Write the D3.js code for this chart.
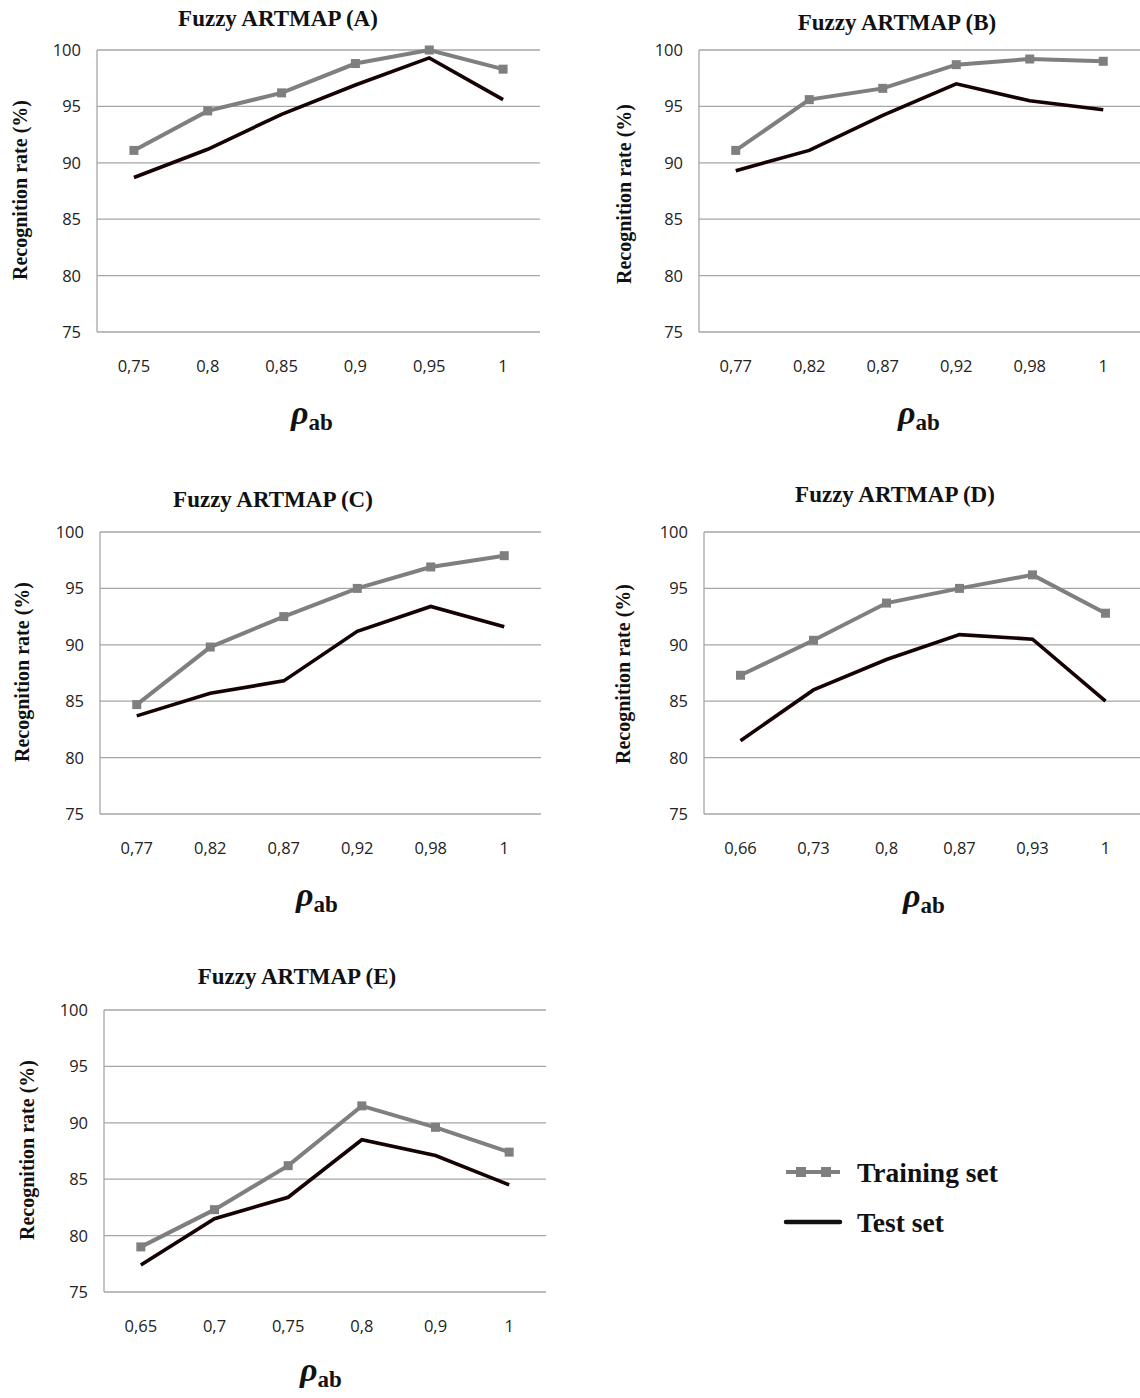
<!DOCTYPE html>
<html>
<head>
<meta charset="utf-8">
<script src="https://cdn.jsdelivr.net/npm/d3@7"></script>
<style>
  body { margin: 0; background: #fff; }
  svg { display: block; }
  .tick-label { font-family: 'Open Sans', sans-serif; font-size: 16.5px; fill: #222; }
  .title { font-family: 'Liberation Serif', serif; font-weight: bold; font-size: 23px; fill: #111; }
  .ytitle { font-family: 'Liberation Serif', serif; font-weight: bold; font-size: 20px; fill: #111; }
  .legend { font-family: 'Liberation Serif', serif; font-weight: bold; font-size: 27.5px; fill: #111; }
</style>
</head>
<body>
<div id="chart"></div>
<script>
// data --------------------------------------------------
var titles = ['Fuzzy ARTMAP (A)', 'Fuzzy ARTMAP (B)', 'Fuzzy ARTMAP (C)', 'Fuzzy ARTMAP (D)', 'Fuzzy ARTMAP (E)']

var catsA = ['0,75', '0,8', '0,85', '0,9', '0,95', '1']
var trainA = [91.1, 94.6, 96.2, 98.8, 100, 98.3]
var testA = [88.7, 91.2, 94.3, 96.9, 99.3, 95.6]

var catsB = ['0,77', '0,82', '0,87', '0,92', '0,98', '1']
var trainB = [91.1, 95.6, 96.6, 98.7, 99.2, 99.0]
var testB = [89.3, 91.1, 94.2, 97.0, 95.5, 94.7]

var catsC = ['0,77', '0,82', '0,87', '0,92', '0,98', '1']
var trainC = [84.7, 89.8, 92.5, 95.0, 96.9, 97.9]
var testC = [83.7, 85.7, 86.8, 91.2, 93.4, 91.6]

var catsD = ['0,66', '0,73', '0,8', '0,87', '0,93', '1']
var trainD = [87.3, 90.4, 93.7, 95.0, 96.2, 92.8]
var testD = [81.5, 86.0, 88.7, 90.9, 90.5, 85.0]

var catsE = ['0,65', '0,7', '0,75', '0,8', '0,9', '1']
var trainE = [79.0, 82.3, 86.2, 91.5, 89.6, 87.4]
var testE = [77.4, 81.5, 83.4, 88.5, 87.1, 84.5]

var yTicks = [75, 80, 85, 90, 95, 100]
var seriesNames = ['Training set', 'Test set']

// panel geometry ----------------------------------------
var panels = [
  {cats: catsA, train: trainA, test: testA, left: 97, top: 50, width: 443, titleX: 278, titleY: 26, yTitleX: 20, yTitleY: 190, rhoX: 291, rhoDy: 92},
  {cats: catsB, train: trainB, test: testB, left: 699, top: 50, width: 441, titleX: 897, titleY: 30, yTitleX: 624, yTitleY: 194, rhoX: 898, rhoDy: 92},
  {cats: catsC, train: trainC, test: testC, left: 100, top: 532, width: 441, titleX: 273, titleY: 507, yTitleX: 22, yTitleY: 672, rhoX: 296, rhoDy: 92},
  {cats: catsD, train: trainD, test: testD, left: 704, top: 532, width: 438, titleX: 895, titleY: 502, yTitleX: 623, yTitleY: 674, rhoX: 903, rhoDy: 93},
  {cats: catsE, train: trainE, test: testE, left: 104, top: 1010, width: 442, titleX: 297, titleY: 984, yTitleX: 27, yTitleY: 1150, rhoX: 300, rhoDy: 89}
]
var plotH = 282

var svg = d3.select('#chart').append('svg')
  .attr('width', 1140)
  .attr('height', 1398)

panels.forEach(function (p, i) {
  var x = d3.scaleBand().domain(p.cats).range([p.left, p.left + p.width])
  var y = d3.scaleLinear().domain([75, 100]).range([p.top + plotH, p.top])
  var g = svg.append('g')

  // gridlines
  g.selectAll('line.grid')
    .data(yTicks)
    .enter()
    .append('line')
    .attr('x1', p.left)
    .attr('x2', p.left + p.width)
    .attr('y1', function (d) { return y(d) })
    .attr('y2', function (d) { return y(d) })
    .attr('stroke', '#a6a6a6')
    .attr('stroke-width', 1.3)
  g.append('line')
    .attr('x1', p.left).attr('x2', p.left)
    .attr('y1', y(100)).attr('y2', y(75))
    .attr('stroke', '#a6a6a6')
    .attr('stroke-width', 1.3)

  // y tick labels
  g.selectAll('text.ytick')
    .data(yTicks)
    .enter()
    .append('text')
    .attr('class', 'tick-label')
    .attr('x', p.left - 16)
    .attr('y', function (d) { return y(d) + 6 })
    .attr('text-anchor', 'end')
    .text(function (d) { return d })

  // x tick labels
  g.selectAll('text.xtick')
    .data(p.cats)
    .enter()
    .append('text')
    .attr('class', 'tick-label')
    .attr('x', function (d) { return x(d) + x.bandwidth() / 2 })
    .attr('y', y(75) + 40)
    .attr('text-anchor', 'middle')
    .text(function (d) { return d })

  // title
  g.append('text')
    .attr('class', 'title')
    .attr('x', p.titleX)
    .attr('y', p.titleY)
    .attr('text-anchor', 'middle')
    .text(titles[i])

  // y axis title
  g.append('text')
    .attr('class', 'ytitle')
    .attr('transform', 'translate(' + (p.yTitleX + 7) + ',' + p.yTitleY + ') rotate(-90)')
    .attr('text-anchor', 'middle')
    .text('Recognition rate (%)')

  // x axis title: rho_ab
  var rho = g.append('text')
    .attr('x', p.rhoX)
    .attr('y', y(75) + p.rhoDy)
    .attr('font-family', 'Liberation Serif, serif')
    .attr('font-weight', 'bold')
    .attr('fill', '#111')
  rho.append('tspan').attr('font-size', 34).attr('font-style', 'italic').text('ρ')
  rho.append('tspan').attr('font-size', 23).attr('dy', 6).text('ab')

  var line = d3.line()
    .x(function (d, j) { return x(p.cats[j]) + x.bandwidth() / 2 })
    .y(function (d) { return y(d) })

  g.append('path')
    .datum(p.test)
    .attr('d', line)
    .attr('fill', 'none')
    .attr('stroke', '#160202')
    .attr('stroke-width', 3.6)
  g.append('path')
    .datum(p.train)
    .attr('d', line)
    .attr('fill', 'none')
    .attr('stroke', '#7f7f7f')
    .attr('stroke-width', 4)
  g.selectAll('rect.mark')
    .data(p.train)
    .enter()
    .append('rect')
    .attr('x', function (d, j) { return x(p.cats[j]) + x.bandwidth() / 2 - 4.5 })
    .attr('y', function (d) { return y(d) - 4.5 })
    .attr('width', 9)
    .attr('height', 9)
    .attr('fill', '#7f7f7f')
})

// legend
var legend = svg.append('g').attr('transform', 'translate(786, 1172)')
legend.append('line')
  .attr('x1', 0).attr('x2', 54).attr('y1', 0).attr('y2', 0)
  .attr('stroke', '#7f7f7f').attr('stroke-width', 4)
legend.selectAll('rect')
  .data([15, 40])
  .enter()
  .append('rect')
  .attr('x', function (d) { return d - 5 })
  .attr('y', -5)
  .attr('width', 10)
  .attr('height', 10)
  .attr('fill', '#7f7f7f')
legend.append('text').attr('class', 'legend').attr('x', 71).attr('y', 10).text(seriesNames[0])
legend.append('line')
  .attr('x1', 0).attr('x2', 54).attr('y1', 50).attr('y2', 50)
  .attr('stroke', '#111').attr('stroke-width', 4.5).attr('stroke-linecap', 'round')
legend.append('text').attr('class', 'legend').attr('x', 71).attr('y', 60).text(seriesNames[1])
</script>
</body>
</html>
